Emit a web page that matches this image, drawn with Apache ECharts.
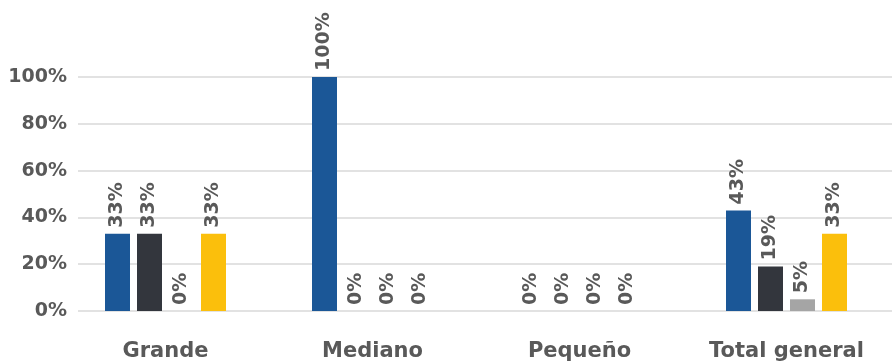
<!DOCTYPE html>
<html>
<head>
<meta charset="utf-8">
<script src="https://cdn.jsdelivr.net/npm/echarts@6/dist/echarts.min.js"></script>
<style>
  html, body { margin: 0; padding: 0; background: #ffffff; }
  #chart { width: 892px; height: 362px; }
</style>
</head>
<body>
<div id="chart"></div>
<script>
// Categories along the x axis
const categories = ['Grande', 'Mediano', 'Pequeño', 'Total general'];

// Share per category for each of the four groups (fractions of 1)
const seriesBlue   = [0.33, 1.00, 0, 0.43];
const seriesDark   = [0.33, 0,    0, 0.19];
const seriesGray   = [0,    0,    0, 0.05];
const seriesYellow = [0.33, 0,    0, 0.33];

// Value axis ticks
const yTicks = [0, 0.2, 0.4, 0.6, 0.8, 1.0];

const FONT = '"DejaVu Sans", sans-serif';
const TEXT = '#595959';

const chart = echarts.init(document.getElementById('chart'), null, { renderer: 'canvas' });

function barSeries(name, data, color) {
  return {
    name: name,
    type: 'bar',
    xAxisIndex: 1,
    yAxisIndex: 1,
    data: data,
    barWidth: 25,
    barGap: '28%',
    barCategoryGap: '42%',
    itemStyle: { color: color },
    label: {
      show: true,
      position: 'top',
      rotate: 90,
      align: 'left',
      verticalAlign: 'middle',
      distance: 6,
      color: TEXT,
      fontFamily: FONT,
      fontWeight: 'bold',
      fontSize: 19,
      formatter: p => Math.round(p.value * 100) + '%'
    }
  };
}

chart.setOption({
  animation: false,
  grid: [
    // gridlines and value labels
    { left: 78, right: 0, top: 77, bottom: 51 },
    // bars and category labels
    { left: 62, right: 2, top: 77, bottom: 51 }
  ],
  xAxis: [
    { type: 'category', gridIndex: 0, data: categories, show: false },
    {
      type: 'category',
      gridIndex: 1,
      data: categories,
      axisLine: { show: false },
      axisTick: { show: false },
      axisLabel: {
        color: TEXT,
        fontFamily: FONT,
        fontWeight: 'bold',
        fontSize: 21,
        margin: 30
      }
    }
  ],
  yAxis: [
    {
      type: 'value',
      gridIndex: 0,
      min: yTicks[0],
      max: yTicks[yTicks.length - 1],
      interval: yTicks[1] - yTicks[0],
      axisLine: { show: false },
      axisTick: { show: false },
      splitLine: { lineStyle: { color: '#d9d9d9', width: 1.5 } },
      axisLabel: {
        color: TEXT,
        fontFamily: FONT,
        fontWeight: 'bold',
        fontSize: 19,
        margin: 11,
        formatter: v => Math.round(v * 100) + '%'
      }
    },
    {
      type: 'value',
      gridIndex: 1,
      min: yTicks[0],
      max: yTicks[yTicks.length - 1],
      interval: yTicks[1] - yTicks[0],
      show: false
    }
  ],
  series: [
    barSeries('Azul', seriesBlue, '#1b5797'),
    barSeries('Oscuro', seriesDark, '#33363d'),
    barSeries('Gris', seriesGray, '#a5a5a5'),
    barSeries('Amarillo', seriesYellow, '#fbbf0c')
  ]
});
</script>
</body>
</html>
